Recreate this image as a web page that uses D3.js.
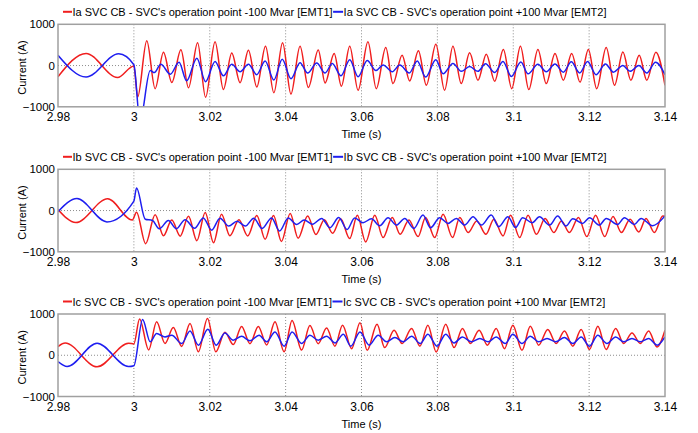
<!DOCTYPE html>
<html>
<head>
<meta charset="utf-8">
<script src="https://cdn.jsdelivr.net/npm/d3@7"></script>
<style>
  body { margin: 0; background: #fff; }
  svg { display: block; font-family: Arial, "Liberation Sans", sans-serif; }
</style>
</head>
<body>
<svg id="chart" width="698" height="433"></svg>
<script>
// axis ticks
const xTicks = [2.98, 3, 3.02, 3.04, 3.06, 3.08, 3.1, 3.12, 3.14];
const yTicks = [-1000, 0, 1000];

// legend labels
const phases = ["Ia", "Ib", "Ic"];
const labelEmt1 = " SVC CB - SVC's operation point -100 Mvar [EMT1]";
const labelEmt2 = " SVC CB - SVC's operation point +100 Mvar [EMT2]";

// [time (s), current (A)]
const iaEmt1 = [[2.98,-270],[2.9874,295],[2.9957,-290],[3.0,-10],[3.0010,-765],[3.0034,600],[3.0056,-560],[3.0078,320],[3.0100,-410],[3.0124,385],[3.0144,-540],[3.0168,555],[3.0189,-770],[3.0214,580],[3.0236,-580],[3.0258,305],[3.0280,-415],[3.0302,370],[3.0324,-520],[3.0347,470],[3.0369,-660],[3.0392,555],[3.0414,-690],[3.0438,470],[3.0460,-530],[3.0486,380],[3.0504,-420],[3.0528,290],[3.0547,-500],[3.0569,470],[3.0591,-600],[3.0617,575],[3.0639,-560],[3.0664,437],[3.0683,-437],[3.0707,250],[3.0727,-372],[3.0750,356],[3.0771,-478],[3.0796,518],[3.0819,-600],[3.0841,470],[3.0863,-437],[3.0885,308],[3.0907,-356],[3.0929,275],[3.0951,-380],[3.0974,389],[3.0996,-560],[3.1019,470],[3.1041,-583],[3.1065,389],[3.1087,-437],[3.1110,290],[3.1132,-356],[3.1154,290],[3.1176,-400],[3.1198,389],[3.1220,-560],[3.1245,437],[3.1267,-478],[3.1289,330],[3.1310,-356],[3.1332,250],[3.1352,-356],[3.1376,324],[3.14,-478]];

const iaEmt2 = [[2.98,250],[2.9874,-280],[2.9960,285],[3.0,20],[3.0016,-1350],[3.0043,-120],[3.0054,-170],[3.0071,30],[3.0096,-210],[3.0119,80],[3.0139,-370],[3.0166,180],[3.0189,-390],[3.0214,100],[3.0236,-250],[3.0258,30],[3.0280,-150],[3.0302,30],[3.0324,-220],[3.0346,110],[3.0369,-350],[3.0391,150],[3.0414,-320],[3.0438,70],[3.0458,-180],[3.0482,60],[3.0504,-180],[3.0523,50],[3.0546,-250],[3.0569,140],[3.0591,-270],[3.0615,120],[3.0638,-120],[3.0657,15],[3.0681,-150],[3.0701,15],[3.0726,-180],[3.0747,110],[3.0769,-280],[3.0796,140],[3.0815,-200],[3.0841,50],[3.0863,-140],[3.0885,-25],[3.0907,-140],[3.0927,45],[3.0951,-170],[3.0973,100],[3.0995,-265],[3.1020,85],[3.1039,-200],[3.1065,30],[3.1087,-150],[3.1110,35],[3.1132,-160],[3.1153,90],[3.1175,-180],[3.1196,100],[3.1218,-220],[3.1243,40],[3.1264,-160],[3.1289,0],[3.1308,-140],[3.1331,0],[3.1352,-180],[3.1375,80],[3.14,-220]];

const ibEmt1 = [[2.98,25],[2.9847,-290],[2.9931,285],[2.9996,-230],[3.0007,-40],[3.0031,-805],[3.0056,-100],[3.0078,-610],[3.0100,-230],[3.0122,-620],[3.0144,-140],[3.0166,-730],[3.0188,-50],[3.0210,-780],[3.0231,-90],[3.0253,-610],[3.0277,-220],[3.0300,-615],[3.0324,-120],[3.0346,-695],[3.0368,-120],[3.0389,-750],[3.0412,-70],[3.0433,-670],[3.0458,-130],[3.0480,-580],[3.0502,-220],[3.0524,-550],[3.0545,-200],[3.0569,-680],[3.0589,-113],[3.0611,-760],[3.0635,-113],[3.0657,-656],[3.0681,-170],[3.0702,-575],[3.0725,-227],[3.0749,-632],[3.0769,-170],[3.0793,-656],[3.0815,-89],[3.0840,-656],[3.0859,-170],[3.0881,-535],[3.0904,-251],[3.0928,-575],[3.0949,-210],[3.0973,-615],[3.0993,-113],[3.1017,-656],[3.1039,-113],[3.1061,-575],[3.1084,-194],[3.1107,-535],[3.1127,-251],[3.1148,-535],[3.1172,-170],[3.1194,-632],[3.1217,-113],[3.1241,-632],[3.1263,-146],[3.1285,-535],[3.1308,-210],[3.1331,-518],[3.1350,-194],[3.1372,-535],[3.1394,-130],[3.14,-140]];

const ibEmt2 = [[2.98,-30],[2.9850,290],[2.9929,-275],[3.0,230],[3.0007,545],[3.0030,-210],[3.0049,-240],[3.0067,-440],[3.0091,-240],[3.0112,-440],[3.0135,-220],[3.0160,-430],[3.0183,-180],[3.0205,-475],[3.0227,-185],[3.0250,-375],[3.0272,-260],[3.0294,-375],[3.0316,-185],[3.0338,-435],[3.0363,-180],[3.0384,-495],[3.0407,-180],[3.0429,-340],[3.0449,-230],[3.0471,-330],[3.0495,-190],[3.0517,-415],[3.0540,-170],[3.0562,-460],[3.0582,-180],[3.0604,-295],[3.0626,-200],[3.0648,-368],[3.0670,-174],[3.0692,-352],[3.0714,-190],[3.0738,-433],[3.0762,-109],[3.0782,-417],[3.0806,-174],[3.0828,-311],[3.0850,-190],[3.0872,-352],[3.0894,-150],[3.0916,-352],[3.0942,-109],[3.0962,-392],[3.0986,-150],[3.1006,-408],[3.1025,-174],[3.1050,-295],[3.1069,-150],[3.1096,-352],[3.1117,-134],[3.1139,-376],[3.1157,-200],[3.1183,-311],[3.1201,-174],[3.1227,-352],[3.1245,-190],[3.1275,-336],[3.1293,-174],[3.1319,-336],[3.1337,-190],[3.1367,-368],[3.14,-130]];

const icEmt1 = [[2.98,210],[2.9819,295],[2.9903,-280],[2.9986,290],[3.0,275],[3.0015,880],[3.0039,130],[3.0060,810],[3.0082,285],[3.0104,670],[3.0126,215],[3.0148,770],[3.0170,85],[3.0194,890],[3.0216,85],[3.0240,560],[3.0262,260],[3.0284,700],[3.0306,280],[3.0328,700],[3.0350,250],[3.0372,810],[3.0396,85],[3.0417,845],[3.0442,125],[3.0464,720],[3.0486,280],[3.0508,660],[3.0530,220],[3.0550,730],[3.0574,160],[3.0596,785],[3.0615,120],[3.0641,750],[3.0661,185],[3.0686,605],[3.0707,285],[3.0732,650],[3.0754,220],[3.0775,730],[3.0797,80],[3.0822,750],[3.0844,185],[3.0866,650],[3.0887,285],[3.0910,605],[3.0932,245],[3.0955,650],[3.0977,160],[3.0999,730],[3.1023,120],[3.1045,705],[3.1067,245],[3.1091,625],[3.1113,285],[3.1135,590],[3.1157,220],[3.1179,625],[3.1201,140],[3.1223,705],[3.1245,140],[3.1270,650],[3.1291,285],[3.1313,540],[3.1335,285],[3.1357,590],[3.1379,200],[3.14,605]];

const icEmt2 = [[2.98,-155],[2.9824,-275],[2.9903,290],[2.9986,-275],[3.0,-255],[3.0023,865],[3.0043,325],[3.0060,525],[3.0082,445],[3.0100,485],[3.0126,285],[3.0148,590],[3.0170,245],[3.0195,630],[3.0217,245],[3.0240,540],[3.0262,365],[3.0284,460],[3.0306,350],[3.0330,485],[3.0350,325],[3.0372,565],[3.0396,220],[3.0417,565],[3.0442,285],[3.0464,485],[3.0486,365],[3.0508,460],[3.0530,300],[3.0552,510],[3.0572,220],[3.0596,565],[3.0620,245],[3.0644,485],[3.0666,325],[3.0688,430],[3.0710,325],[3.0732,460],[3.0755,285],[3.0775,510],[3.0799,220],[3.0822,510],[3.0844,300],[3.0866,445],[3.0890,325],[3.0912,405],[3.0934,325],[3.0955,445],[3.0979,285],[3.0999,510],[3.1023,285],[3.1045,460],[3.1067,325],[3.1089,405],[3.1112,325],[3.1135,430],[3.1157,285],[3.1179,445],[3.1201,220],[3.1223,485],[3.1247,285],[3.1270,445],[3.1291,325],[3.1313,405],[3.1335,325],[3.1357,405],[3.1379,245],[3.14,445]];

const panelSeries = [[iaEmt1, iaEmt2], [ibEmt1, ibEmt2], [icEmt1, icEmt2]];

const red = "#f01e1e";
const blue = "#1e1ef0";

const svg = d3.select("#chart");
const left = 58, right = 665, plotH = 82.5;
const tops = [24.3, 169.3, 314];

const x = d3.scaleLinear().domain([2.98, 3.14]).range([left, right]);

panelSeries.forEach((series, i) => {
  const top = tops[i];
  const y = d3.scaleLinear().domain([-1000, 1000]).range([top + plotH, top]);
  const g = svg.append("g");

  // clip so spikes stay inside the frame
  svg.append("clipPath").attr("id", "clip" + i)
    .append("rect").attr("x", left).attr("y", top).attr("width", right - left).attr("height", plotH);

  // dotted grid
  g.selectAll(".vgrid").data(xTicks.slice(1, -1)).join("line")
    .attr("x1", d => x(d)).attr("x2", d => x(d))
    .attr("y1", top).attr("y2", top + plotH)
    .attr("stroke", "#8c8c8c").attr("stroke-width", 1).attr("stroke-dasharray", "1,2");
  g.append("line")
    .attr("x1", left).attr("x2", right).attr("y1", y(0)).attr("y2", y(0))
    .attr("stroke", "#8c8c8c").attr("stroke-width", 1).attr("stroke-dasharray", "1,2");

  // waveforms
  const line = d3.line().x(d => x(d[0])).y(d => y(d[1])).curve(d3.curveMonotoneX);
  const lines = g.append("g").attr("clip-path", `url(#clip${i})`);
  lines.append("path").datum(series[0]).attr("d", line)
    .attr("fill", "none").attr("stroke", red).attr("stroke-width", 1.5);
  lines.append("path").datum(series[1]).attr("d", line)
    .attr("fill", "none").attr("stroke", blue).attr("stroke-width", 1.5);

  // frame
  g.append("rect").attr("x", left).attr("y", top).attr("width", right - left).attr("height", plotH)
    .attr("fill", "none").attr("stroke", "#a0a0a0").attr("stroke-width", 1.5);

  // axes
  const xAxis = d3.axisBottom(x).tickValues(xTicks).tickSize(0).tickPadding(6).tickFormat(d3.format(""));
  g.append("g").attr("transform", `translate(0,${top + plotH})`).call(xAxis)
    .call(a => a.select(".domain").remove())
    .selectAll("text").attr("font-size", 12).attr("fill", "#000");
  const yAxis = d3.axisLeft(y).tickValues(yTicks).tickSize(0).tickPadding(3).tickFormat(d3.format(""));
  g.append("g").attr("transform", `translate(${left},0)`).call(yAxis)
    .call(a => a.select(".domain").remove())
    .selectAll("text").attr("font-size", 11.5).attr("fill", "#000");

  g.append("text").attr("x", (left + right) / 2).attr("y", top + plotH + 31)
    .attr("text-anchor", "middle").attr("font-size", 11).text("Time (s)");
  g.append("text")
    .attr("transform", `translate(25.5,${top + plotH / 2 + 2}) rotate(-90)`)
    .attr("text-anchor", "middle").attr("font-size", 11).text("Current (A)");

  // legend
  const ly = top - 12.5;
  const leg = g.append("g");
  leg.append("line").attr("x1", 63).attr("x2", 72).attr("y1", ly).attr("y2", ly)
    .attr("stroke", red).attr("stroke-width", 2);
  const t1 = leg.append("text").attr("x", 72.5).attr("y", ly + 4).attr("font-size", 11)
    .text(phases[i] + labelEmt1);
  const x2 = 72.5 + t1.node().getComputedTextLength() + 0.5;
  leg.append("line").attr("x1", x2).attr("x2", x2 + 10).attr("y1", ly).attr("y2", ly)
    .attr("stroke", blue).attr("stroke-width", 2);
  leg.append("text").attr("x", x2 + 10.5).attr("y", ly + 4).attr("font-size", 11)
    .text(phases[i] + labelEmt2);
});
</script>
</body>
</html>
